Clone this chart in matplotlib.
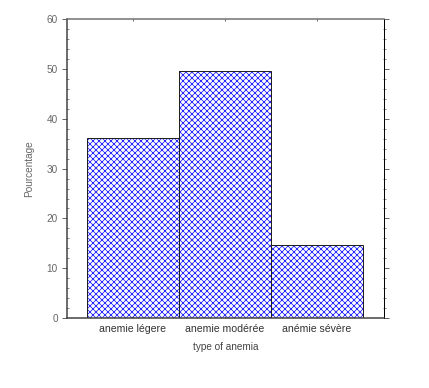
import matplotlib
matplotlib.use("Agg")
import matplotlib.pyplot as plt
from matplotlib.ticker import MultipleLocator

# data
categories = ["anemie légere", "anemie modérée", "anémie sévère"]
percentages = [36.1, 49.6, 14.6]

plt.rcParams["font.family"] = ["Liberation Sans", "DejaVu Sans"]
plt.rcParams["hatch.linewidth"] = 0.75

# dpi 72 so the hatch cell comes out ~6 px like the original
DPI = 72
fig = plt.figure(figsize=(429 / DPI, 388 / DPI), dpi=DPI)
ax = fig.add_axes([0.156, 0.180, 0.739, 0.771])

x = list(range(len(categories)))
# hatch layer (blue) then outline layer (black)
ax.bar(x, percentages, width=1.0, color="white", edgecolor="#1a1aff",
       linewidth=0, hatch="xxxx")
ax.bar(x, percentages, width=1.0, fill=False, edgecolor="#202020",
       linewidth=1.0)

ax.set_xlim(-0.717, 2.728)
ax.set_ylim(0, 60)
ax.set_xticks(x)
ax.set_xticklabels(categories)
ax.yaxis.set_major_locator(MultipleLocator(10))
ax.yaxis.set_minor_locator(MultipleLocator(2))

for s in ax.spines.values():
    s.set_color("#404040")
    s.set_linewidth(1.5)
ax.spines["right"].set_color("#000000")
ax.spines["right"].set_linewidth(1.0)
ax.spines["top"].set_color("#707070")

ax.tick_params(axis="y", which="major", direction="out", length=5,
               labelsize=10, labelcolor="#666666", color="#404040",
               right=True, pad=4)
ax.tick_params(axis="y", which="minor", direction="inout", length=3,
               color="#404040", right=True)
ax.tick_params(axis="x", direction="in", length=2, labelsize=10.5,
               labelcolor="#333333", color="#404040", top=True, pad=6)

ax.set_ylabel("Pourcentage", fontsize=10, color="#666666", labelpad=13)
ax.set_xlabel("type of anemia", fontsize=10, color="#444444", labelpad=8)

fig.savefig("out.png", dpi=DPI)
